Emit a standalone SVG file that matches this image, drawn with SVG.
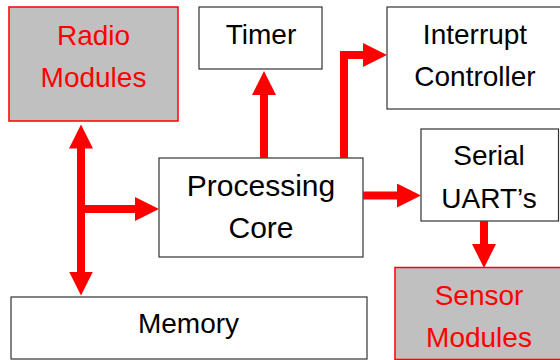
<svg xmlns="http://www.w3.org/2000/svg" width="560" height="360" viewBox="0 0 560 360">
  <style>
    .box { fill: #ffffff; stroke: #333333; stroke-width: 1.2; }
    .rbox { fill: #c0c0c0; stroke: #ff0000; stroke-width: 1.5; }
    .t { font-family: "Liberation Sans", Arial, sans-serif; font-size: 28px; fill: #000000; text-anchor: middle; }
    .rt { fill: #ff0000; }
    .big { font-size: 30px; }
    .conn { fill: none; stroke: #ff0000; stroke-width: 8; stroke-linecap: butt; stroke-linejoin: miter; }
  </style>
  <defs>
    <marker id="ah" markerUnits="userSpaceOnUse" markerWidth="26" markerHeight="24" refX="1" refY="12" orient="auto-start-reverse" viewBox="0 0 26 24">
      <path d="M0,0 L24,12 L0,24 z" fill="#ff0000"/>
    </marker>
  </defs>

  <g id="radio">
    <rect class="rbox" x="9" y="7" width="169" height="114"/>
    <text class="t rt" x="93.5" y="45">Radio</text>
    <text class="t rt" x="93.5" y="87">Modules</text>
  </g>
  <g id="timer">
    <rect class="box" x="199" y="7" width="123" height="62"/>
    <text class="t" x="261" y="44">Timer</text>
  </g>
  <g id="interrupt">
    <rect class="box" x="387" y="7" width="180" height="102"/>
    <text class="t" x="475" y="44">Interrupt</text>
    <text class="t" x="475" y="86">Controller</text>
  </g>
  <g id="core">
    <rect class="box" x="159" y="158" width="204" height="99"/>
    <text class="t big" x="261" y="196">Processing</text>
    <text class="t big" x="261" y="238">Core</text>
  </g>
  <g id="serial">
    <rect class="box" x="421" y="129" width="137.5" height="92"/>
    <text class="t" x="489" y="165">Serial</text>
    <text class="t" x="489" y="208">UART’s</text>
  </g>
  <g id="memory">
    <rect class="box" x="11" y="297" width="356" height="62"/>
    <text class="t" x="188.5" y="333">Memory</text>
  </g>
  <g id="sensor">
    <rect class="rbox" x="395" y="267.5" width="180" height="92"/>
    <text class="t rt" x="479" y="305">Sensor</text>
    <text class="t rt" x="479" y="347">Modules</text>
  </g>

  <g id="connectors">
    <line class="conn" x1="81" y1="147.5" x2="81" y2="272.5" marker-start="url(#ah)" marker-end="url(#ah)"/>
    <line class="conn" x1="81" y1="209" x2="136" y2="209" marker-end="url(#ah)"/>
    <line class="conn" x1="264" y1="158" x2="264" y2="94" marker-end="url(#ah)"/>
    <polyline class="conn" points="344,158 344,55 364,55" marker-end="url(#ah)"/>
    <line class="conn" x1="363" y1="195.5" x2="398" y2="195.5" marker-end="url(#ah)"/>
    <line class="conn" x1="484" y1="221" x2="484" y2="245" marker-end="url(#ah)"/>
  </g>
</svg>
